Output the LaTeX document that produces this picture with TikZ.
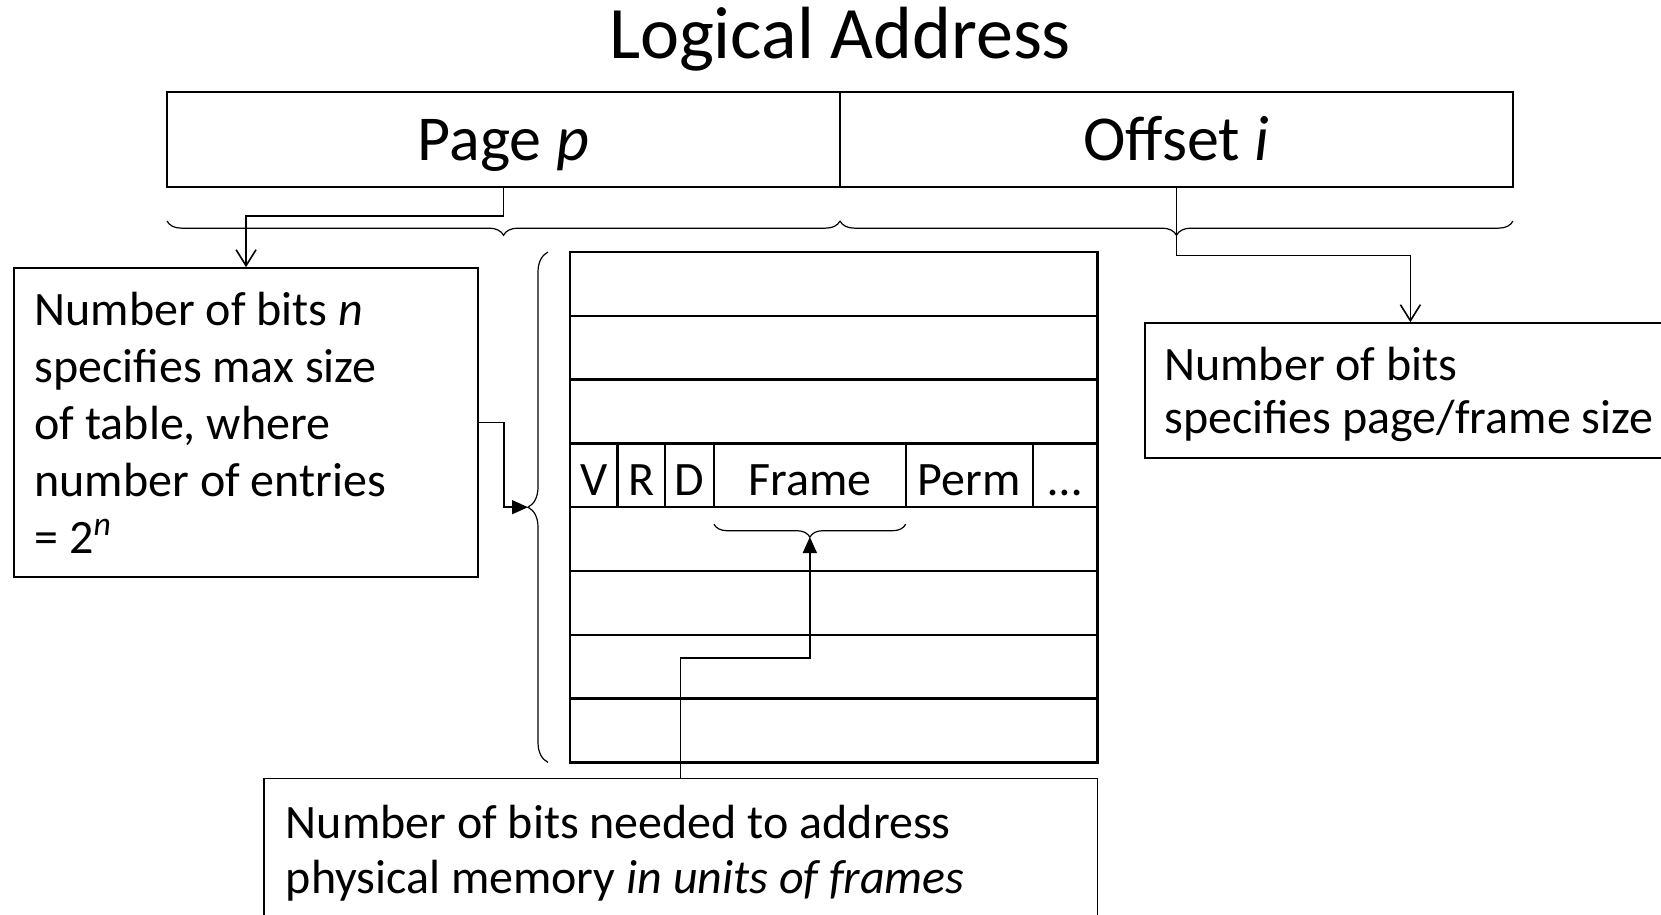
\documentclass[tikz,border=0pt]{standalone}
\usepackage{fontspec}
\setmainfont{Carlito}
\usetikzlibrary{arrows.meta, positioning, decorations.pathreplacing}

\begin{document}
\begin{tikzpicture}[
    x=0.5pt, y=-0.5pt,
    field/.style={rectangle, draw, line width=1pt, inner sep=0pt,
                  minimum width=336.5pt, minimum height=47.75pt,
                  text height=21.2pt, text depth=0pt,
                  font=\fontsize{32}{38}\selectfont},
    note/.style={rectangle, draw, line width=0.8pt, inner xsep=#1, inner ysep=0pt,
                 align=flush left, font=\fontsize{24}{28.5}\selectfont},
    tabrow/.style={rectangle, draw, line width=1.2pt, inner sep=0pt, outer sep=0pt,
                   minimum width=263.75pt, minimum height=31.9pt},
    tabcell/.style={tabrow, minimum width=#1, text height=19.7pt, text depth=0pt,
                    font=\fontsize{24}{28}\selectfont},
    link/.style={line width=0.8pt},
    curly/.style={line width=0.6pt, decorate, decoration={brace, amplitude=#1}},
  ]
    \useasboundingbox (0,0) rectangle (1661,915);
    \clip (0,0) rectangle (1661,915);

    \node[font=\fontsize{37}{44}\selectfont, anchor=base] (title) at (840,59) {Logical Address};

    % logical address fields
    \node[field] (page) at (503.5,139.75) {Page \textit{p}};
    \node[field] (offset) at (1176.5,139.75) {Offset \textit{i}};

    \draw[curly=7.15pt, decoration={mirror}] (167,221) -- (840,221);
    \draw[curly=7.15pt, decoration={mirror}] (840,221) -- (1513,221);

    % notes
    \node[note=10.35pt, text width=211.5pt, minimum height=154.5pt] (lbox) at (246.05,422.5) {%
      Number of bits \textit{n}\\
      specifies max size\\
      of table, where\\
      number of entries\\
      = 2\textsuperscript{\textit{n}}};
    \node[note=9.6pt, text width=268pt, minimum height=67.5pt,
          font=\fontsize{24}{26.5}\selectfont] (rbox) at (1432.4,390.5) {%
      \rule{0pt}{21pt}Number of bits\\
      specifies page/frame size};
    \node[note=11pt, text width=394.85pt, minimum height=74.5pt,
          font=\fontsize{24}{27.5}\selectfont] (bbox) at (680.65,853) {%
      Number of bits needed to address\\
      physical memory \textit{in units of frames}};

    % page table
    \foreach \r in {0,...,7}
      \node[tabrow] (row\r) at (833.75,283.9+63.8*\r) {};

    \node[tabcell=23.8pt, anchor=west] (vbit) at (row3.west) {V};
    \node[tabcell=23.8pt, right=0pt of vbit] (rbit) {R};
    \node[tabcell=24.4pt, right=0pt of rbit] (dbit) {D};
    \node[tabcell=95.85pt, right=0pt of dbit] (frame) {Frame};
    \node[tabcell=63.55pt, right=0pt of frame] (perm) {Perm};
    \node[tabcell=32.35pt, right=0pt of perm] (more) {…};

    \draw[curly=10pt] ([xshift=-11pt]row7.south west) -- ([xshift=-11pt]row0.north west);
    \coordinate (ttip) at ([xshift=-21pt]row3.south west);
    \draw[curly=6.5pt, decoration={mirror}] ([yshift=-8.5pt]frame.south west) -- ([yshift=-8.5pt]frame.south east);
    \coordinate (ftip) at ([yshift=-14.9pt]frame.south);

    % connectors
    \draw[link, -{Straight Barb[length=8pt, width=10pt]}] (page.south) -- ++(0,27.5) -| (lbox.north);
    \draw[link, -{Straight Barb[length=8pt, width=10pt]}] (offset.south) -- ++(0,67) -| ([xshift=133pt]rbox.north west);
    \draw[link, -{Triangle[length=8pt, width=7pt]}] (lbox.east) -- ++(25,0) |- (ttip);
    \draw[link, -{Triangle[length=8pt, width=7pt]}] (bbox.north) -- ++(0,-120) -| (ftip);
\end{tikzpicture}
\end{document}
